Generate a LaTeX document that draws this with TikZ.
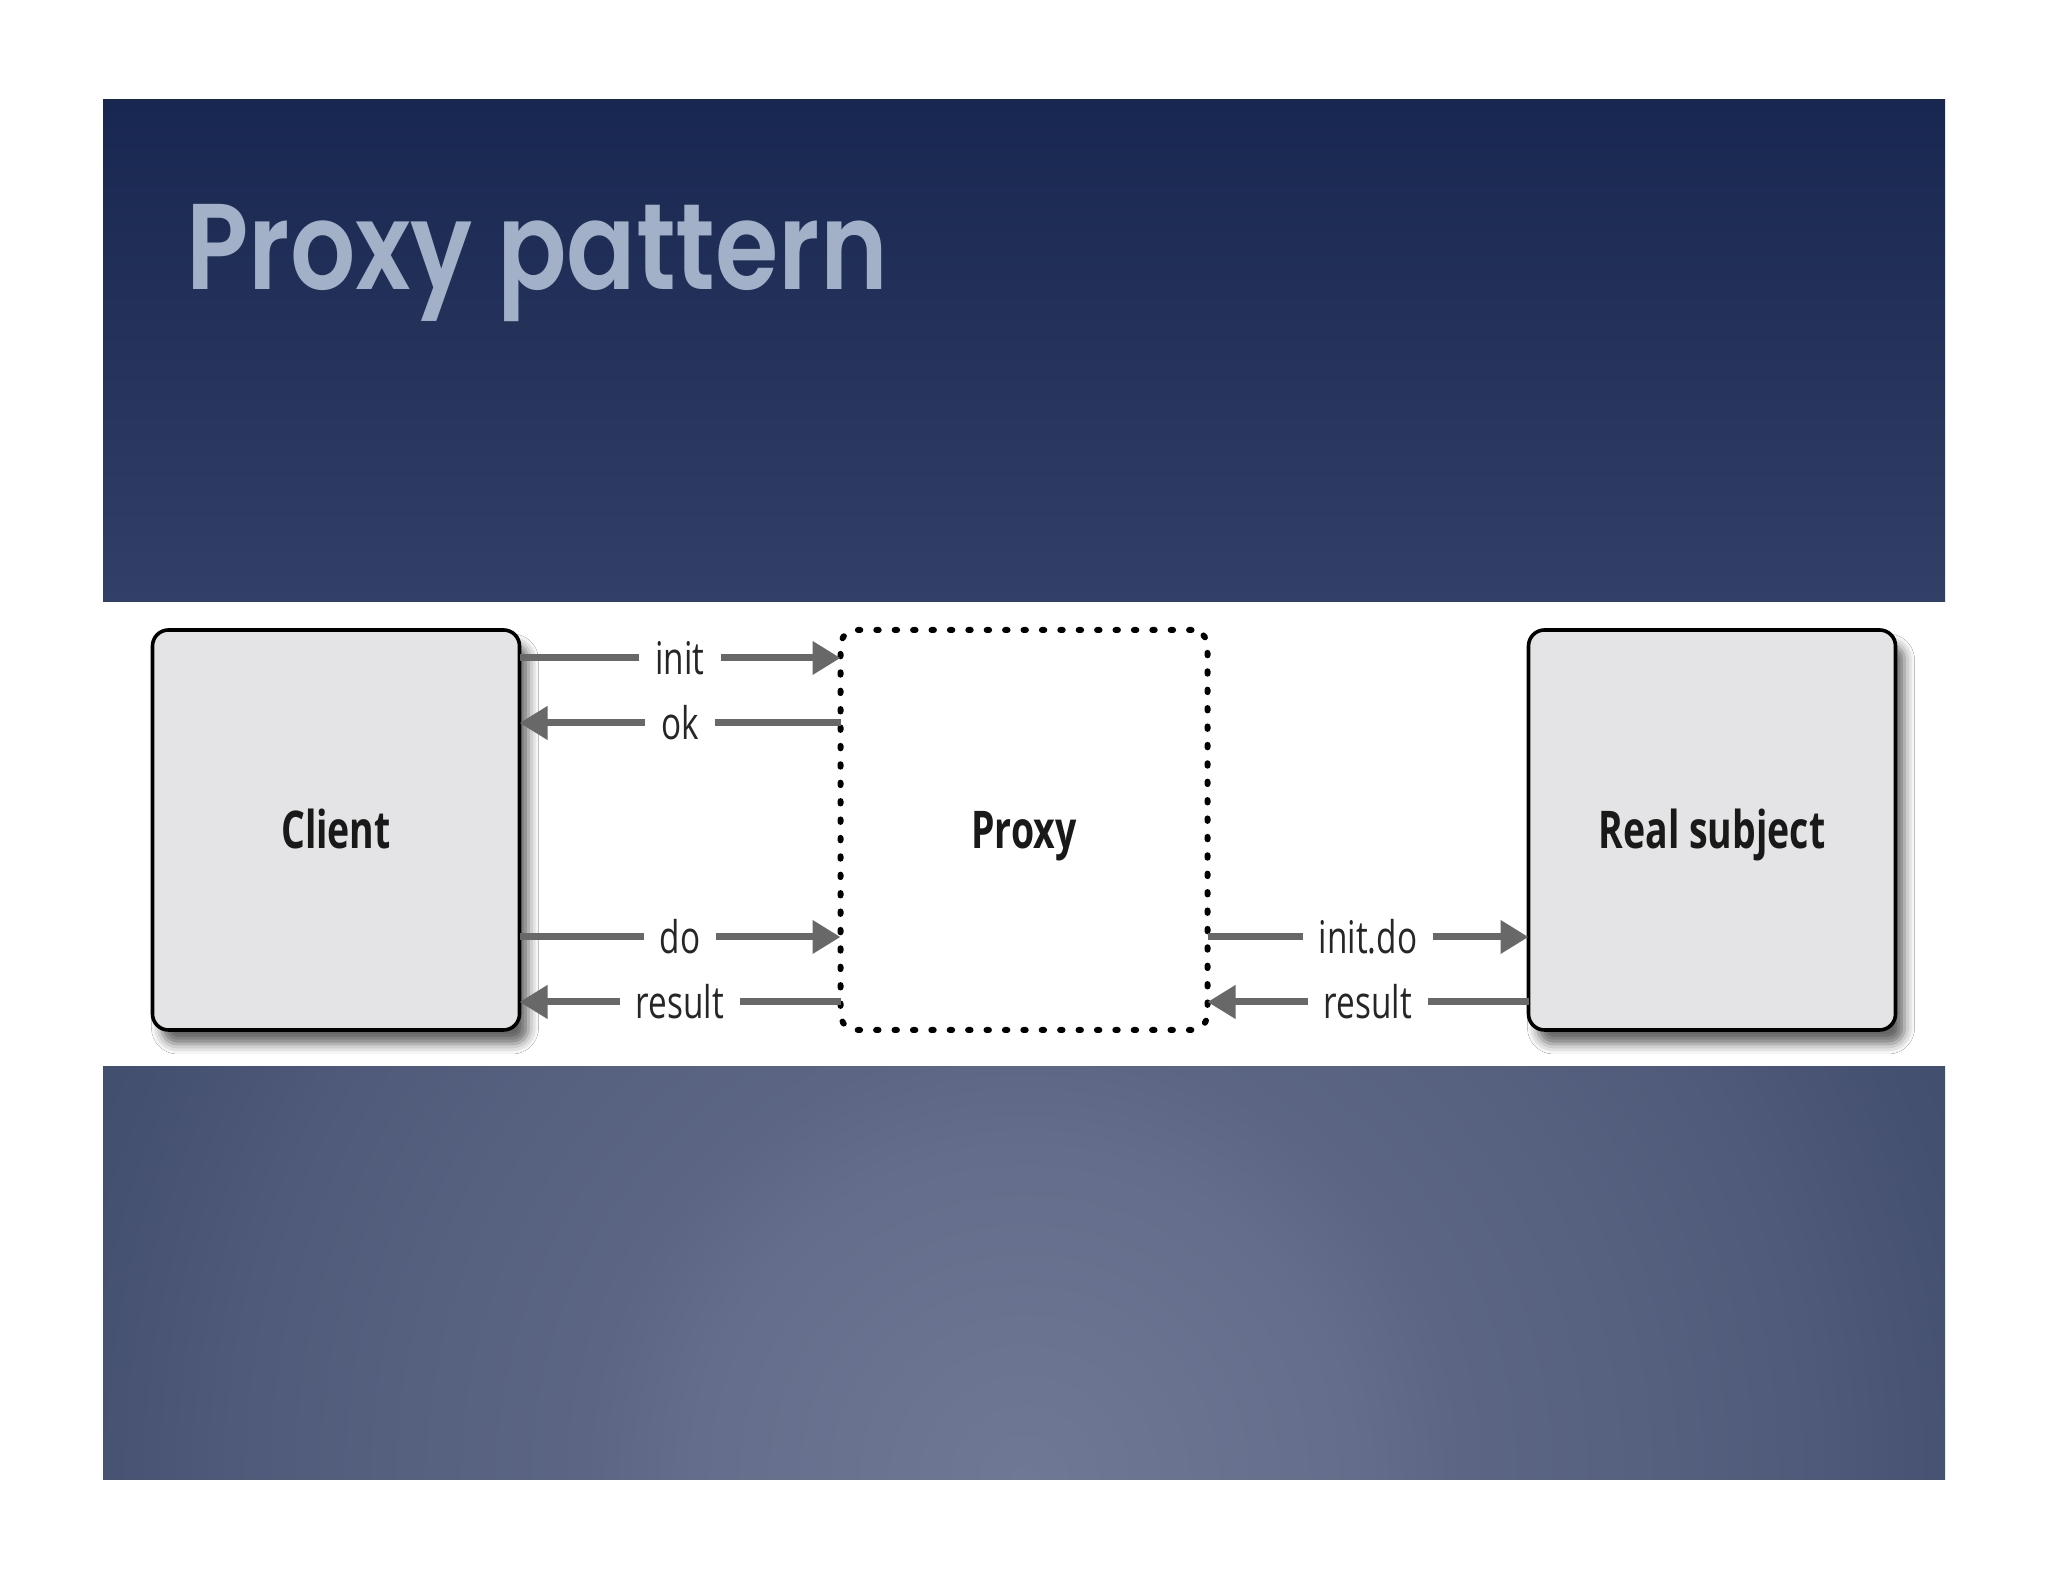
\documentclass[tikz,border=0pt]{standalone}
\usepackage{fontspec}
\usetikzlibrary{arrows.meta,positioning,shadows,shadows.blur}

\newfontfamily\titlefont[FakeStretch=0.84]{Poppins SemiBold}
\newfontfamily\boxfont[FakeStretch=0.72]{Open Sans}
\newfontfamily\tagfont[FakeStretch=0.74]{Open Sans}

\definecolor{navytop}{HTML}{182751}
\definecolor{navybot}{HTML}{323F66}
\definecolor{glowA}{HTML}{6F7995}
\definecolor{glowB}{HTML}{646D8B}
\definecolor{glowC}{HTML}{5C6584}
\definecolor{glowD}{HTML}{56607F}
\definecolor{glowE}{HTML}{4F5979}
\definecolor{glowF}{HTML}{445070}
\definecolor{glowG}{HTML}{404C6C}
\definecolor{titlegrey}{HTML}{A2B1C8}
\definecolor{boxgrey}{HTML}{E4E4E6}
\definecolor{arrowgrey}{HTML}{686868}

\pgfdeclareradialshading{slideglow}{\pgfpoint{0bp}{0bp}}{%
  color(0bp)=(glowA); color(7.5bp)=(glowB); color(10bp)=(glowC);
  color(14bp)=(glowD); color(18bp)=(glowE); color(22bp)=(glowF);
  color(25bp)=(glowG); color(50bp)=(glowG)}

\begin{document}
\begin{tikzpicture}[%
    x=0.5pt, y=0.5pt,                        % one unit is one pixel of the slide
    >={Triangle[length=14pt,width=16pt]},    % heavy grey tips
    node distance=160.5pt                    % gap between the three boxes
    ]

\tikzset{
    base/.style={minimum width=183.5pt, minimum height=200pt, outer sep=0pt,
        rounded corners=8pt, align=center, text=black!90,
        text height=18.7pt, text depth=0pt,
        font={\boxfont\bfseries\fontsize{26}{30}\selectfont}},
    party/.style={base, draw=black, line width=1.8pt, fill=boxgrey,
        blur shadow={shadow xshift=4.5pt, shadow yshift=-7pt,
        shadow blur radius=5pt, shadow opacity=60}},
    stand/.style={base, draw=black, line width=3pt, line cap=round,
        dash pattern=on 1.2pt off 8pt},
    % Arrows
    fforw/.style={->, line width=3.5pt, arrowgrey},
    tag/.style={fill=white, inner xsep=8pt, inner ysep=0pt, text=black!85,
        text height=16.9pt, text depth=0pt,
        font={\tagfont\fontsize{22.5}{26}\selectfont}}
}

\useasboundingbox [fill=white] (0,0) rectangle (2048,1582);

%% Slide background
\begin{scope}
    \clip (103,102) rectangle (1945,515);
    \shade [shading=slideglow] (1024,102) circle [radius=550pt];
\end{scope}
\shade [top color=navytop, bottom color=navybot] (103,980) rectangle (1945,1482);
\node [anchor=base west, inner sep=0pt, text=titlegrey,
    font={\titlefont\fontsize{61}{70}\selectfont}] (title) at (186,1292) {Proxy pattern};

%% Boxes
\node [party] (client) at (336,752) {Client};
\node [stand, right=of client] (proxy) {Proxy};
\node [party, right=of proxy] (real) {Real subject};

%% Client and proxy
\draw [fforw] ([yshift=-14pt]client.north east) -- node [tag] {init} ([yshift=-14pt]proxy.north west);
\draw [fforw] ([yshift=-46.5pt]proxy.north west) -- node [tag] {ok} ([yshift=-46.5pt]client.north east);
\draw [fforw] ([yshift=46.5pt]client.south east) -- node [tag] {do} ([yshift=46.5pt]proxy.south west);
\draw [fforw] ([yshift=14pt]proxy.south west) -- node [tag] {result} ([yshift=14pt]client.south east);

%% Proxy and real subject
\draw [fforw] ([yshift=46.5pt]proxy.south east) -- node [tag] {init.do} ([yshift=46.5pt]real.south west);
\draw [fforw] ([yshift=14pt]real.south west) -- node [tag] {result} ([yshift=14pt]proxy.south east);
\end{tikzpicture}
\end{document}
